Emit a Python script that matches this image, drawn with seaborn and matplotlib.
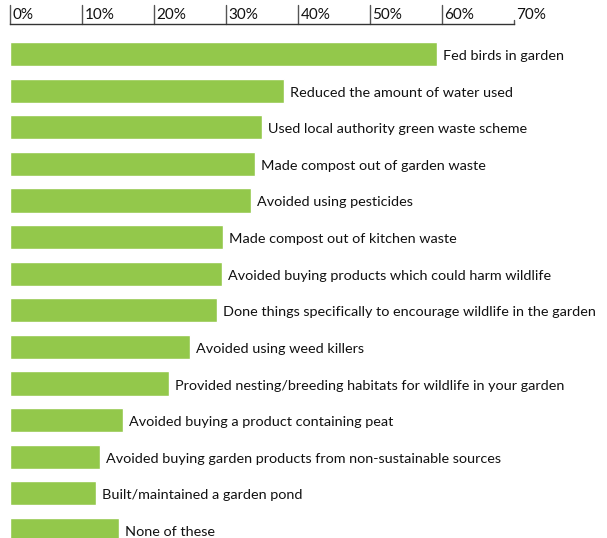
import matplotlib
matplotlib.use("Agg")
import matplotlib.pyplot as plt
import matplotlib.transforms as mtransforms
import seaborn as sns
import pandas as pd

categories = [
    "Fed birds in garden",
    "Reduced the amount of water used",
    "Used local authority green waste scheme",
    "Made compost out of garden waste",
    "Avoided using pesticides",
    "Made compost out of kitchen waste",
    "Avoided buying products which could harm wildlife",
    "Done things specifically to encourage wildlife in the garden",
    "Avoided using weed killers",
    "Provided nesting/breeding habitats for wildlife in your garden",
    "Avoided buying a product containing peat",
    "Avoided buying garden products from non-sustainable sources",
    "Built/maintained a garden pond",
    "None of these",
]
values = [59.4, 38.1, 35.0, 34.1, 33.5, 29.7, 29.5, 28.8, 25.1, 22.1, 15.7, 12.6, 12.0, 15.2]
tick_values = [0, 10, 20, 30, 40, 50, 60, 70]
tick_labels = ["0%", "10%", "20%", "30%", "40%", "50%", "60%", "70%"]

sns.set_theme(style="white")
plt.rcParams["font.family"] = ["Lato", "DejaVu Sans"]

df = pd.DataFrame({"category": categories, "value": values})

W, H = 607, 538
fig = plt.figure(figsize=(W / 100, H / 100), dpi=100)
x0 = 9.5 / W
x1 = 513.6 / W
ax = fig.add_axes([x0, 0.0, x1 - x0, (H - 24) / H])

sns.barplot(data=df, y="category", x="value", orient="h", color="#93c84b",
            saturation=1, width=0.66, ax=ax, order=categories)

ax.set_ylim(13.22, -0.82)
ax.set_xlim(0, 70)
ax.set_xlabel("")
ax.set_ylabel("")
ax.set_yticks([])
ax.set_xticks([])
for s in ["left", "right", "bottom"]:
    ax.spines[s].set_visible(False)
ax.spines["top"].set_visible(True)
ax.spines["top"].set_color("#333333")
ax.spines["top"].set_linewidth(1.0)

# category labels to the right of bars
for i, (cat, v) in enumerate(zip(categories, values)):
    trans = mtransforms.offset_copy(ax.transData, fig=fig, x=6, y=-2, units="dots")
    ax.text(v, i, cat, transform=trans, ha="left", va="center",
            fontsize=10.4, color="#111111", clip_on=False)

# top axis ticks and labels
xt = ax.get_xaxis_transform()
for tv, tl in zip(tick_values, tick_labels):
    top = 1.0 + (19 / (H - 24)) if tv != 70 else 1.0 + (4 / (H - 24))
    ax.plot([tv, tv], [1.0, top], transform=xt, color="#555555", lw=1.0, clip_on=False)
    trans = mtransforms.offset_copy(xt, fig=fig, x=3, y=2, units="dots")
    ax.text(tv, 1.0, tl, transform=trans, ha="left", va="bottom", fontsize=11,
            color="#111111", clip_on=False)

fig.savefig("out.png", dpi=100)
